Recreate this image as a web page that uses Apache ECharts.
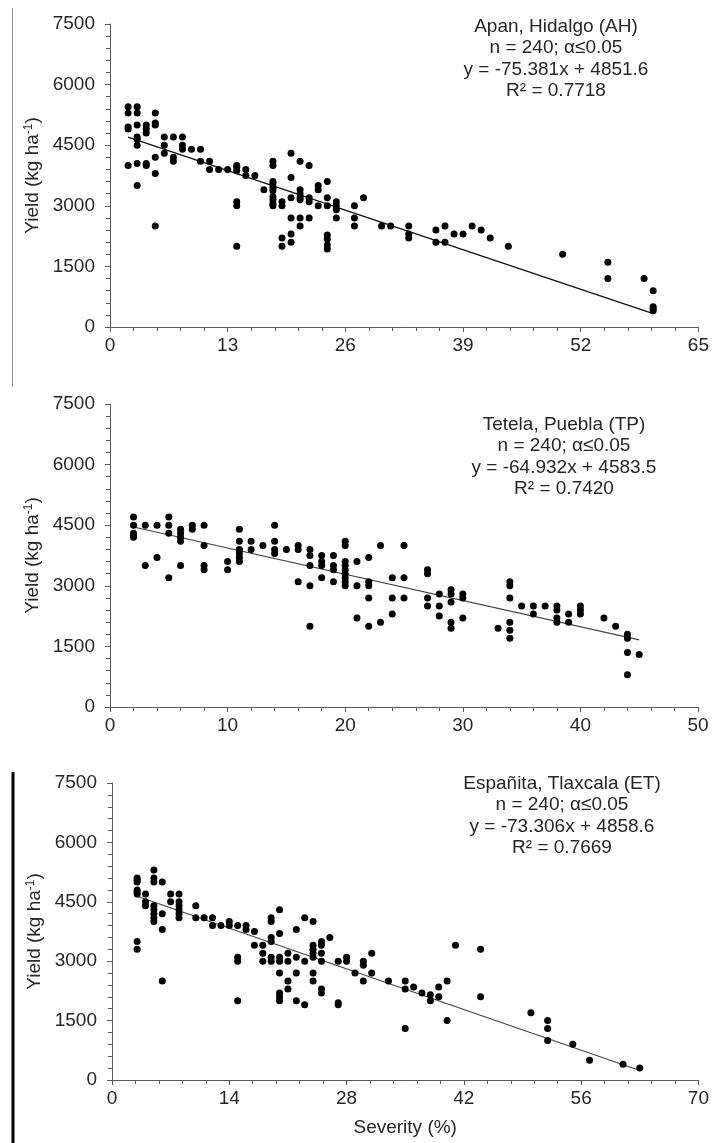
<!DOCTYPE html>
<html>
<head>
<meta charset="utf-8">
<script src="https://cdn.jsdelivr.net/npm/echarts@6/dist/echarts.min.js"></script>
<style>
html,body{margin:0;padding:0;background:#fff;}
#chart{width:712px;height:1143px;}
</style>
</head>
<body>
<div id="chart"></div>
<script>
// ---------- DATA ----------
const yTicks = [0, 1500, 3000, 4500, 6000, 7500];

// Apan, Hidalgo (AH): [severity %, yield kg/ha]
const apanPoints = [
  [2,5450],[2,5300],[2,4950],[2,4900],[2,4000],
  [3,5450],[3,5300],[3,5000],[3,4700],[3,4650],[3,4500],[3,4050],[3,3500],
  [4,5000],[4,4900],[4,4800],[4,4050],[4,4000],
  [5,5300],[5,5050],[5,5000],[5,4200],[5,3800],[5,2500],
  [6,4700],[6,4500],[6,4300],
  [7,4700],[7,4200],[7,4100],
  [8,4700],[8,4500],[8,4400],
  [9,4400],
  [10,4400],[10,4100],
  [11,4100],[11,3900],
  [12,3900],[13,3900],
  [14,4000],[14,3950],[14,3870],[14,3100],[14,3000],[14,2000],
  [15,3900],[15,3750],
  [16,3750],[17,3400],
  [18,4100],[18,4000],[18,3600],[18,3550],[18,3450],[18,3380],[18,3230],[18,3150],[18,3060],[18,3000],
  [19,3100],[19,3000],[19,2200],[19,2000],
  [20,4300],[20,3700],[20,3200],[20,2700],[20,2300],[20,2100],
  [21,4100],[21,3400],[21,3300],[21,3200],[21,3150],[21,2700],[21,2500],
  [22,4000],[22,3200],[22,3100],[22,2700],
  [23,3500],[23,3400],[23,3000],
  [24,3600],[24,3200],[24,3000],[24,2280],[24,2180],[24,2030],[24,1930],
  [25,3100],[25,3000],[25,2900],[25,2700],
  [27,3000],[27,2700],[27,2500],
  [28,3200],
  [30,2500],[31,2500],
  [33,2500],[33,2300],[33,2200],
  [36,2400],[36,2100],
  [37,2500],[37,2100],
  [38,2300],[39,2300],[40,2500],[41,2400],[42,2200],
  [44,2000],[50,1800],
  [55,1600],[55,1200],
  [59,1200],
  [60,900],[60,500],[60,450],[60,400]
];
const apanFit = [-75.381, 4851.6];   // slope, intercept
const apanFitRange = [2, 60];
const apanText = ['Apan, Hidalgo (AH)', 'n = 240; α≤0.05', 'y = -75.381x + 4851.6', 'R² = 0.7718'];
const apanXTicks = [0, 13, 26, 39, 52, 65];

// Tetela, Puebla (TP)
const tetelaPoints = [
  [2,4700],[2,4500],[2,4300],[2,4250],[2,4200],
  [3,4500],[3,3500],
  [4,4500],[4,3700],
  [5,4700],[5,4500],[5,4300],[5,3200],
  [6,4400],[6,4300],[6,4200],[6,4100],[6,3500],
  [7,4500],[7,4400],
  [8,4500],[8,4000],[8,3500],[8,3400],
  [10,3600],[10,3400],
  [11,4400],[11,4100],[11,3900],[11,3800],[11,3700],[11,3600],
  [12,4100],[12,3900],
  [13,4000],
  [14,4500],[14,4100],[14,3900],[14,3800],
  [15,3900],
  [16,4000],[16,3900],[16,3100],
  [17,3900],[17,3750],[17,3500],[17,3000],[17,2000],
  [18,3750],[18,3600],[18,3500],[18,3200],
  [19,3750],[19,3500],[19,3400],[19,3100],
  [20,4100],[20,4000],[20,3600],[20,3500],[20,3400],[20,3300],[20,3200],[20,3100],[20,3000],
  [21,3600],[21,3000],[21,2200],
  [22,3700],[22,3100],[22,3000],[22,2700],[22,2000],
  [23,4000],[23,2100],
  [24,3200],[24,2700],[24,2300],
  [25,4000],[25,3200],[25,2700],
  [27,3400],[27,3300],[27,2700],[27,2500],
  [28,2800],[28,2500],[28,2250],
  [29,2900],[29,2800],[29,2600],[29,2100],[29,1950],
  [30,2800],[30,2700],[30,2200],
  [33,1950],
  [34,3100],[34,3000],[34,2700],[34,2100],[34,1900],[34,1700],
  [35,2500],
  [36,2500],[36,2300],
  [37,2500],
  [38,2500],[38,2400],[38,2200],[38,2100],
  [39,2300],[39,2100],
  [40,2500],[40,2400],[40,2300],
  [42,2200],[43,2000],
  [44,1800],[44,1700],[44,1350],[44,800],
  [45,1300]
];
const tetelaFit = [-64.932, 4583.5];
const tetelaFitRange = [2, 45];
const tetelaText = ['Tetela, Puebla (TP)', 'n = 240; α≤0.05', 'y = -64.932x + 4583.5', 'R² = 0.7420'];
const tetelaXTicks = [0, 10, 20, 30, 40, 50];

// Españita, Tlaxcala (ET)
const espanitaPoints = [
  [3,5100],[3,5050],[3,5000],[3,4800],[3,4750],[3,4700],[3,3500],[3,3300],
  [4,4700],[4,4500],[4,4400],
  [5,5300],[5,5100],[5,5000],[5,4400],[5,4300],[5,4200],[5,4100],[5,4000],
  [6,5000],[6,4200],[6,3800],[6,2500],
  [7,4700],[7,4500],
  [8,4700],[8,4500],[8,4400],[8,4300],[8,4200],[8,4100],
  [10,4400],[10,4100],
  [11,4100],
  [12,4100],[12,3900],
  [13,3900],
  [14,4000],[14,3900],
  [15,3900],[15,3100],[15,3000],[15,2000],
  [16,3900],[16,3800],
  [17,3750],[17,3400],
  [18,3400],[18,3200],[18,3000],
  [19,4100],[19,4000],[19,3600],[19,3500],[19,3100],[19,3000],
  [20,4300],[20,3700],[20,3100],[20,3000],[20,2700],[20,2200],[20,2100],[20,2000],
  [21,3200],[21,3000],[21,2500],[21,2300],
  [22,3800],[22,3100],[22,2700],[22,2000],
  [23,4100],[23,3000],[23,1900],
  [24,4000],[24,3400],[24,3300],[24,3200],[24,3100],[24,2700],[24,2500],
  [25,3500],[25,3400],[25,3200],[25,3000],[25,2300],[25,2200],
  [26,3600],
  [27,3000],[27,1950],[27,1900],
  [28,3100],[28,3000],
  [29,2700],
  [30,3000],[30,2900],[30,2500],
  [31,3200],[31,2700],
  [33,2500],
  [35,2500],[35,2300],[35,1300],
  [36,2350],[37,2200],
  [38,2150],[38,2000],
  [39,2350],[39,2100],
  [40,2500],[40,1500],
  [41,3400],
  [44,3300],[44,2100],
  [50,1700],
  [52,1500],[52,1300],[52,1000],
  [55,900],[57,500],[61,400],[63,300]
];
const espanitaFit = [-73.306, 4858.6];
const espanitaFitRange = [3, 63];
const espanitaText = ['Españita, Tlaxcala (ET)', 'n = 240; α≤0.05', 'y = -73.306x + 4858.6', 'R² = 0.7669'];
const espanitaXTicks = [0, 14, 28, 42, 56, 70];

const xAxisTitle = 'Severity (%)';
const yAxisTitle = 'Yield (kg ha{sup|-1})';

// ---------- CHART ----------
const FONT = "'Liberation Sans', Arial, sans-serif";
const TXT = '#262626';
const AX = '#595959';

function fitLine(fit, range) {
  return range.map(x => [x, fit[1] + fit[0] * x]);
}

const panels = [
  {pts: apanPoints, fit: apanFit, range: apanFitRange, xt: apanXTicks, text: apanText,
   grid: {left: 110, top: 24, width: 589, height: 303}, tx: 556, ty: 16, lc: '#111', lw: 1.3},
  {pts: tetelaPoints, fit: tetelaFit, range: tetelaFitRange, xt: tetelaXTicks, text: tetelaText,
   grid: {left: 110, top: 404, width: 588, height: 303}, tx: 564, ty: 414, lc: '#444', lw: 1.1},
  {pts: espanitaPoints, fit: espanitaFit, range: espanitaFitRange, xt: espanitaXTicks, text: espanitaText,
   grid: {left: 112, top: 783, width: 589, height: 297}, tx: 562, ty: 773, lc: '#444', lw: 1.1}
];

const option = {
  animation: false,
  backgroundColor: '#fff',
  grid: panels.map(p => Object.assign({containLabel: false}, p.grid)),
  xAxis: panels.map((p, i) => ({
    type: 'value', gridIndex: i,
    min: p.xt[0], max: p.xt[p.xt.length - 1], interval: p.xt[1] - p.xt[0],
    name: i === 2 ? xAxisTitle : '',
    nameLocation: 'middle', nameGap: 38,
    nameTextStyle: {fontFamily: FONT, fontSize: 19, color: TXT},
    axisLine: {show: true, onZero: false, lineStyle: {color: AX, width: 1}},
    axisTick: {show: true, length: 5, lineStyle: {color: AX}},
    minorTick: {show: true, splitNumber: 5, length: 4, lineStyle: {color: AX}},
    splitLine: {show: false},
    axisLabel: {fontFamily: FONT, fontSize: 19, color: TXT, margin: 9, formatter: v => String(v)}
  })),
  yAxis: panels.map((p, i) => ({
    type: 'value', gridIndex: i,
    min: yTicks[0], max: yTicks[yTicks.length - 1], interval: yTicks[1] - yTicks[0],
    name: yAxisTitle,
    nameLocation: 'middle', nameGap: 53, nameRotate: 90,
    nameTextStyle: {fontFamily: FONT, fontSize: 19, color: TXT,
      rich: {sup: {fontFamily: FONT, fontSize: 12, color: TXT, verticalAlign: 'top'}}},
    axisLine: {show: true, onZero: false, lineStyle: {color: AX, width: 1}},
    axisTick: {show: true, length: 5, lineStyle: {color: AX}},
    minorTick: {show: true, splitNumber: 5, length: 4, lineStyle: {color: AX}},
    splitLine: {show: false},
    axisLabel: {fontFamily: FONT, fontSize: 19, color: TXT, margin: 15, formatter: v => String(v)}
  })),
  series: panels.flatMap((p, i) => [
    {type: 'scatter', xAxisIndex: i, yAxisIndex: i, data: p.pts, symbol: 'circle', symbolSize: 7,
     itemStyle: {color: '#000', opacity: 1}, z: 3},
    {type: 'line', xAxisIndex: i, yAxisIndex: i, data: fitLine(p.fit, p.range), symbol: 'none',
     lineStyle: {color: p.lc, width: p.lw}, z: 2}
  ]),
  graphic: [
    {type: 'line', shape: {x1: 12.5, y1: 8, x2: 12.5, y2: 387}, style: {stroke: '#8c8c8c', lineWidth: 1}},
    {type: 'line', shape: {x1: 13, y1: 772, x2: 13, y2: 1143}, style: {stroke: '#000', lineWidth: 3}}
  ].concat(panels.map(p => ({
    type: 'text', x: p.tx, y: p.ty,
    style: {text: p.text.join('\n'), fontFamily: FONT, fontSize: 19, fill: TXT,
            align: 'center', verticalAlign: 'top', lineHeight: 21.5}
  })))
};

const chart = echarts.init(document.getElementById('chart'), null, {renderer: 'canvas'});
chart.setOption(option);
</script>
</body>
</html>
